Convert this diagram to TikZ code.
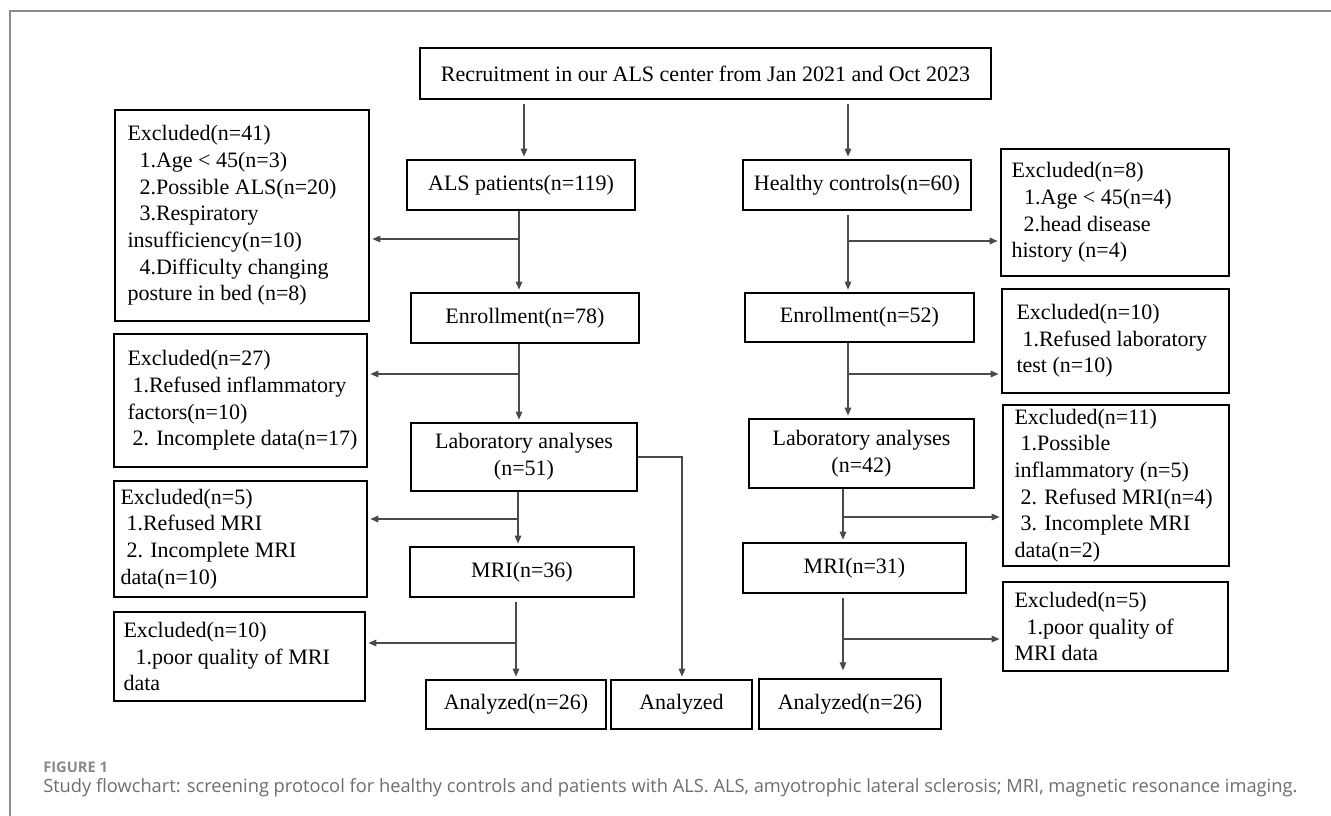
\documentclass[tikz,border=0pt]{standalone}
\usepackage{fontspec}
\setmainfont{Liberation Serif}
\newfontfamily\capfont{Open Sans}
\usetikzlibrary{arrows.meta}
\definecolor{framegray}{HTML}{8C8C8C}
\definecolor{linegray}{HTML}{4A4A4A}
\definecolor{capgray}{HTML}{6E6E6E}
\definecolor{figgray}{HTML}{8A8A8A}
% main box: name, x1, y1, x2, y2, text
\newcommand\mkbox[6]{%
  \pgfmathsetmacro\bw{(#4-#2)*0.75}%
  \pgfmathsetmacro\bh{(#5-#3)*0.75}%
  \node[bx, minimum width=\bw pt, minimum height=\bh pt] (#1) at ({(#2+#4)/2},{(#3+#5)/2}) {#6};}
% excluded box: name, x1, y1, x2, y2, pad, text
\newcommand\exbox[7]{%
  \pgfmathsetmacro\bw{(#4-#2)*0.75}%
  \pgfmathsetmacro\bh{(#5-#3)*0.75}%
  \node[bx, minimum width=\bw pt, minimum height=\bh pt] (#1) at ({(#2+#4)/2},{(#3+#5)/2}) {};
  \node[extxt, anchor=west] (#1-t) at ($(#1.west)+(#6,0)$) {#7};}
\usetikzlibrary{calc}
\begin{document}
\begin{tikzpicture}[x=0.75pt,y=-0.75pt,
  bx/.style={draw=black, line width=1.1pt, inner sep=0pt, align=center,
    font=\fontsize{16.5}{20}\selectfont},
  extxt/.style={inner sep=0pt, align=left, font=\fontsize{16.5}{20}\selectfont},
  conn/.style={draw=linegray, line width=0.8pt},
  arr/.style={conn, -{Triangle[length=6pt,width=5pt]}, shorten >=2pt}]
\useasboundingbox (0,0) rectangle (1331,816);
\fill[white] (0,0) rectangle (1331,816);
% frame
\draw[framegray, line width=1.5pt] (1331,11) -- (10,11) -- (10,816);

% main boxes
\mkbox{rec}{420}{48}{991}{99}{Recruitment in our ALS center from Jan 2021 and Oct 2023}
\mkbox{als}{407}{160}{635}{210}{ALS patients(n=119)}
\mkbox{enrA}{411}{293}{639}{343}{Enrollment(n=78)}
\mkbox{labA}{411}{423}{637}{491}{Laboratory analyses\\(n=51)}
\mkbox{mriA}{410}{547}{634}{597}{MRI(n=36)}
\mkbox{anA}{426}{680}{606}{729}{Analyzed(n=26)}
\mkbox{anM}{611}{680}{752}{729}{Analyzed}
\mkbox{hc}{743}{160}{971}{210}{Healthy controls(n=60)}
\mkbox{enrB}{745}{293}{974}{342}{Enrollment(n=52)}
\mkbox{labB}{749}{419}{974}{488}{Laboratory analyses\\(n=42)}
\mkbox{mriB}{743}{543}{966}{593}{MRI(n=31)}
\mkbox{anB}{759}{679}{941}{729}{Analyzed(n=26)}

% excluded boxes
\exbox{exA1}{115}{110}{369}{321}{9.75pt}{Excluded(n=41)\\\hspace*{9pt}1.Age < 45(n=3)\\\hspace*{9pt}2.Possible ALS(n=20)\\\hspace*{9pt}3.Respiratory\\insufficiency(n=10)\\\hspace*{9pt}4.Difficulty changing\\posture in bed (n=8)}
\exbox{exA2}{114}{334}{367}{467}{10.5pt}{Excluded(n=27)\\\hspace*{3.75pt}1.Refused inflammatory\\factors(n=10)\\\hspace*{3.75pt}2. Incomplete data(n=17)}
\exbox{exA3}{114}{481}{367}{597}{5.25pt}{Excluded(n=5)\\\hspace*{4.5pt}1.Refused MRI\\\hspace*{4.5pt}2. Incomplete MRI\\data(n=10)}
\exbox{exA4}{114}{612}{365}{701}{7.5pt}{Excluded(n=10)\\\hspace*{9pt}1.poor quality of MRI\\data}
\exbox{exB1}{1001}{149}{1229}{276}{8.25pt}{Excluded(n=8)\\\hspace*{9.5pt}1.Age < 45(n=4)\\\hspace*{9pt}2.head disease\\history (n=4)}
\exbox{exB2}{1002}{289}{1229}{393}{11.25pt}{Excluded(n=10)\\\hspace*{4.5pt}1.Refused laboratory\\test (n=10)}
\exbox{exB3}{1003}{405}{1229}{566}{9pt}{Excluded(n=11)\\\hspace*{4.5pt}1.Possible\\inflammatory (n=5)\\\hspace*{4.5pt}2. Refused MRI(n=4)\\\hspace*{4.5pt}3. Incomplete MRI\\data(n=2)}
\exbox{exB4}{1003}{582}{1228}{671}{9pt}{Excluded(n=5)\\\hspace*{9pt}1.poor quality of\\MRI data}

% column coordinates
\coordinate (xA0) at (524,0);
\coordinate (xB0) at (848,0);
\coordinate (xA) at (519,0);
\coordinate (xA3) at (518,0);
\coordinate (xA4) at (516,0);
\coordinate (xB) at (848,0);
\coordinate (xB3) at (843,0);
\coordinate (bA1) at (519,239);
\coordinate (bA2) at (519,374);
\coordinate (bA3) at (518,519);
\coordinate (bA4) at (516,643);
\coordinate (bB1) at (848,241);
\coordinate (bB2) at (848,374);
\coordinate (bB3) at (843,517);
\coordinate (bB4) at (843,639);
\coordinate (bM) at (682,457);

% connectors, left column
\draw[arr] ([yshift=-3pt]rec.south -| xA0) -- (als.north -| xA0);
\draw[arr] ([yshift=-3pt]rec.south -| xB0) -- (hc.north -| xB0);
\draw[arr] (als.south -| xA) -- (enrA.north -| xA);
\draw[arr] (bA1) -- (bA1 -| exA1.east);
\draw[arr] (enrA.south -| xA) -- (labA.north -| xA);
\draw[arr] (bA2) -- (bA2 -| exA2.east);
\draw[arr] (labA.south -| xA3) -- (mriA.north -| xA3);
\draw[arr] (bA3) -- (bA3 -| exA3.east);
\draw[arr] ([yshift=-3pt]mriA.south -| xA4) -- (anA.north -| xA4);
\draw[arr] (bA4) -- (bA4 -| exA4.east);
\draw[arr] (bM -| labA.east) -- (bM) -- (anM.north -| bM);
% connectors, right column
\draw[arr] ([yshift=-3pt]hc.south -| xB) -- (enrB.north -| xB);
\draw[arr] (bB1) -- (bB1 -| exB1.west);
\draw[arr] (enrB.south -| xB) -- (labB.north -| xB);
\draw[arr] (bB2) -- (bB2 -| exB2.west);
\draw[arr] (labB.south -| xB3) -- (mriB.north -| xB3);
\draw[arr] (bB3) -- (bB3 -| exB3.west);
\draw[arr] ([yshift=-3pt]mriB.south -| xB3) -- ([yshift=4pt]anB.north -| xB3);
\draw[arr] (bB4) -- (bB4 -| exB4.west);

% caption
\node[anchor=base west, inner sep=0pt, text=figgray,
  font=\capfont\bfseries\fontsize{11}{12}\selectfont] (figlbl) at (43,772) {FIGURE 1};
\node[anchor=base west, inner sep=0pt, text=capgray,
  font=\capfont\fontsize{13.7}{16}\selectfont] (cap) at (43,792) {Study flowchart: screening protocol for healthy controls and patients with ALS. ALS, amyotrophic lateral sclerosis; MRI, magnetic resonance imaging.};
\end{tikzpicture}
\end{document}
